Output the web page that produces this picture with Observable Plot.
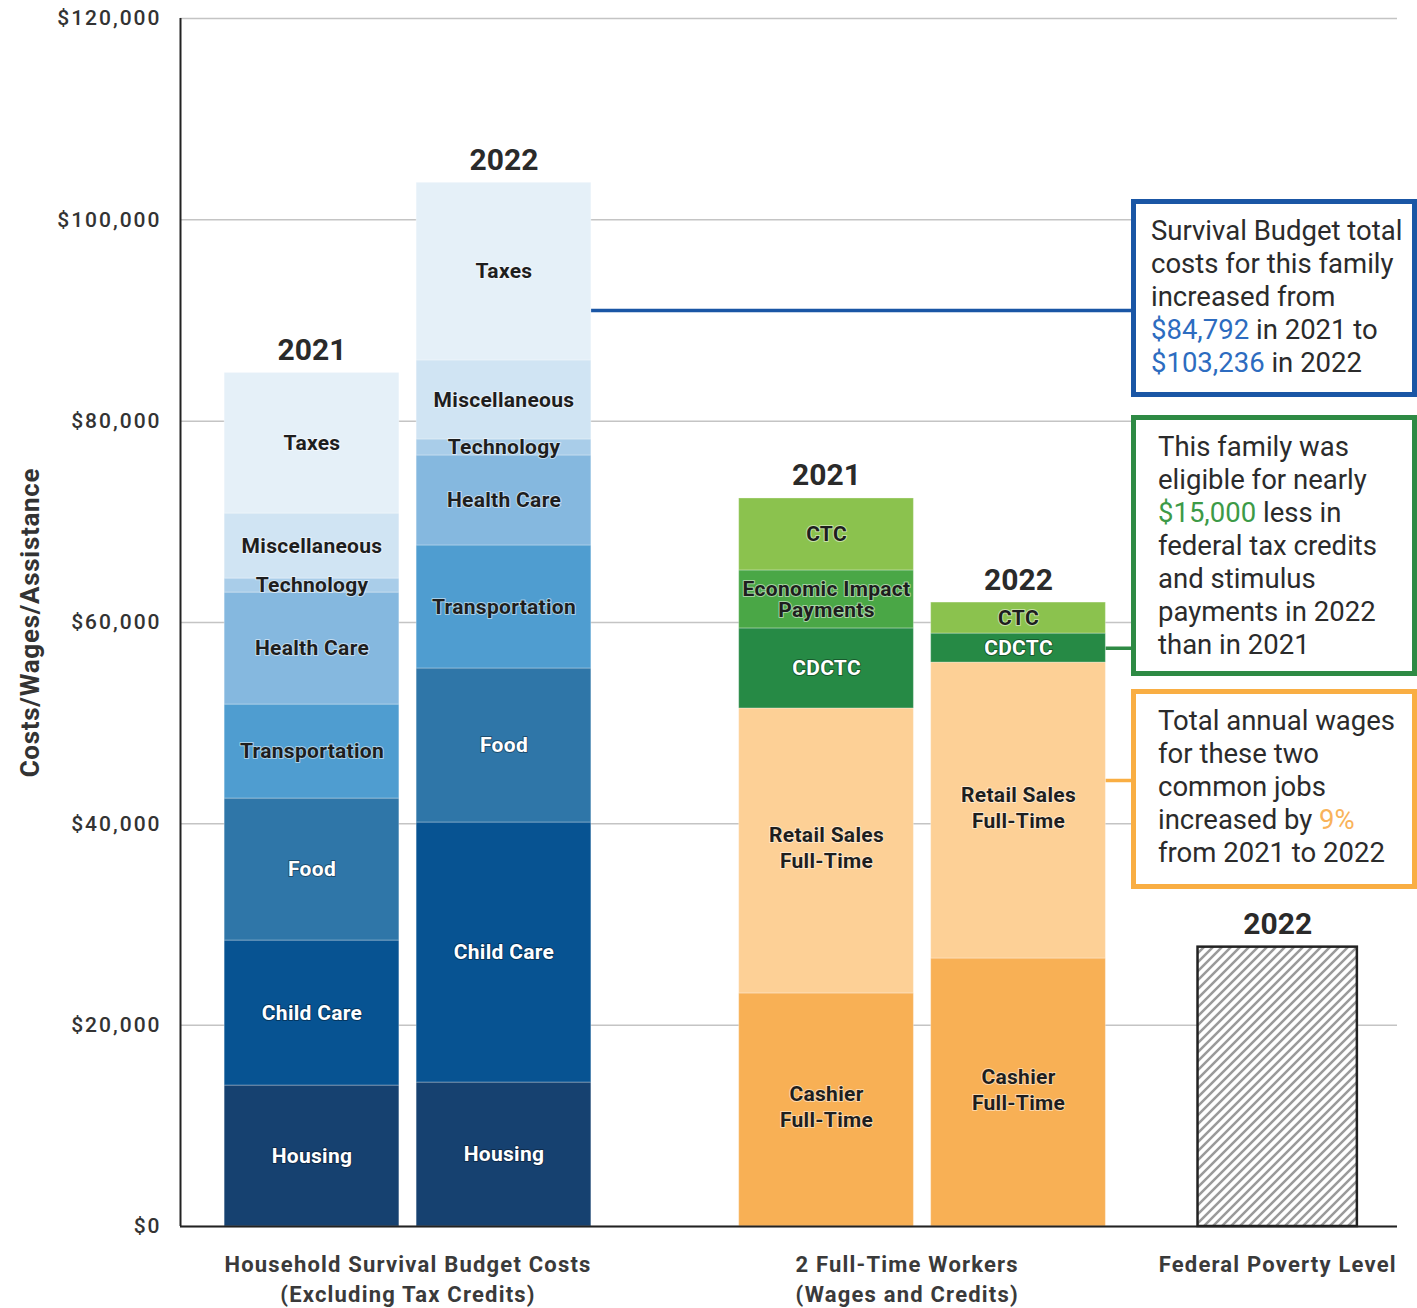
<!DOCTYPE html>
<html>
<head>
<meta charset="utf-8">
<script src="https://cdn.jsdelivr.net/npm/d3@7"></script>
<script src="https://cdn.jsdelivr.net/npm/@observablehq/plot@0.6"></script>
<style>
  body { margin: 0; background: #fff; font-family: Roboto, "Noto Sans", sans-serif; }
  #wrap { position: relative; width: 1417px; height: 1308px; overflow: hidden; }
  .box { position: absolute; left: 1131px; width: 286px; box-sizing: border-box; border: 5px solid; background: #fff;
         font-family: Roboto, sans-serif; font-size: 27.5px; line-height: 33px; color: #2b2b2b; white-space: nowrap; }
  [aria-label="y-axis tick label"] { letter-spacing: 2px; }
  [aria-label="group label"] { letter-spacing: 1.2px; }
  [aria-label="segment label"] { letter-spacing: 0.3px; }
  [aria-label="axis title"] { letter-spacing: 0.7px; }
</style>
</head>
<body>
<div id="wrap"></div>
<script>
// ---------- data ----------
const years = ["2021", "2022"];
const budgetCategories = ["Housing", "Child Care", "Food", "Transportation", "Health Care", "Technology", "Miscellaneous", "Taxes"];
const budget2021 = [14000, 14405, 14106, 9337, 11126, 1391, 6457, 13970];
const budget2022 = [14300, 25830, 15300, 12220, 8940, 1590, 7850, 17650];
const workerCategories = ["Cashier\nFull-Time", "Retail Sales\nFull-Time", "CDCTC", "Economic Impact\nPayments", "CTC"];
const workers2021 = [23150, 28310, 7950, 5760, 7150];
const workers2022 = [26620, 29400, 2880, 0, 3080];
const fplCategories = ["Federal Poverty Level"];
const fpl2022 = [27750];
const groupLabels = ["Household Survival Budget Costs\n(Excluding Tax Credits)", "2 Full-Time Workers\n(Wages and Credits)", "Federal Poverty Level"];
const yTicks = [0, 20000, 40000, 60000, 80000, 100000, 120000];
const calloutValues = [91000, 57450, 44300];

// ---------- styles / layout ----------
const budgetColors = ["#164170", "#075392", "#2f76a8", "#4f9dd0", "#85b8df", "#a9cde9", "#d0e4f3", "#e5f0f8"];
const workerColors = ["#f8b055", "#fdd096", "#268a45", "#4aa746", "#8bc24e"];
const whiteLabels = new Set(["Housing", "Child Care", "Food", "CDCTC"]);
const calloutColors = ["#1a56a5", "#2e8a44", "#f9ae43"];
const groupOffset = [0, 2.68, 5.03];   // in bar-step units
const groupLabelShift = [0, -0.08, 0]; // small optical shift of the group captions
const barWidth = 0.91, fplWidth = 0.83;
const xDomain = [-0.685, 5.654];

const bars = [
  {g: 0, i: 0, year: years[0], cats: budgetCategories, vals: budget2021, colors: budgetColors},
  {g: 0, i: 1, year: years[1], cats: budgetCategories, vals: budget2022, colors: budgetColors},
  {g: 1, i: 0, year: years[0], cats: workerCategories, vals: workers2021, colors: workerColors},
  {g: 1, i: 1, year: years[1], cats: workerCategories, vals: workers2022, colors: workerColors},
  {g: 2, i: 0, year: years[1], cats: fplCategories, vals: fpl2022, colors: ["url(#hatch)"]}
];
bars.forEach(b => {
  b.cx = groupOffset[b.g] + b.i;
  const w = b.g === 2 ? fplWidth : barWidth;
  b.x1 = b.cx - w / 2; b.x2 = b.cx + w / 2;
  b.total = d3.sum(b.vals);
});
const segments = [];
bars.filter(b => b.g !== 2).forEach(b => {
  let acc = 0;
  b.vals.forEach((v, k) => {
    if (v > 0) segments.push({x1: b.x1, x2: b.x2, cx: b.cx, y1: acc, y2: acc + v, cat: b.cats[k], fill: b.colors[k]});
    acc += v;
  });
});
const fplBar = bars.filter(b => b.g === 2);
const groupCenters = groupOffset.map((o, g) => o + (d3.max(bars.filter(b => b.g === g), b => b.i)) / 2);

const calloutFrom = [bars[1].x2, bars[3].x2, bars[3].x2];
const callouts = calloutValues.map((v, k) => ({y: v, x1: calloutFrom[k], x2: groupOffset[2], stroke: calloutColors[k]}));

const labelFill = d => whiteLabels.has(d.cat) ? "#ffffff" : "#1e1e1e";
const labelStroke = d => whiteLabels.has(d.cat) ? "rgba(0,0,0,0.35)" : "rgba(255,255,255,0.5)";
const singleLine = segments.filter(d => !d.cat.includes("\n"));
const eip = segments.filter(d => d.cat.startsWith("Economic"));
const multiLine = segments.filter(d => d.cat.includes("\n") && !d.cat.startsWith("Economic"));
const segText = {x: "cx", y: d => (d.y1 + d.y2) / 2, text: "cat", fill: labelFill, stroke: labelStroke, strokeWidth: 2,
                 paintOrder: "stroke", fontSize: 21, fontWeight: 700, ariaLabel: () => "segment label"};

const chart = Plot.plot({
  width: 1417,
  height: 1308,
  marginTop: 18,
  marginBottom: 82,
  marginLeft: 180,
  marginRight: 20,
  x: {domain: xDomain, axis: null},
  y: {domain: [0, 120000], axis: null},
  style: {fontFamily: "Roboto, sans-serif", color: "#333", background: "white"},
  marks: [
    Plot.gridY(yTicks, {stroke: "#c4c4c4", strokeOpacity: 1, strokeWidth: 1.5}),
    Plot.ruleY(callouts, {y: "y", x1: "x1", x2: "x2", stroke: "stroke", strokeWidth: 3.5}),
    Plot.rect(segments, {x1: "x1", x2: "x2", y1: "y1", y2: "y2", fill: "fill", stroke: "#fff", strokeOpacity: 0.3, strokeWidth: 1}),
    Plot.rect(fplBar, {x1: "x1", x2: "x2", y1: 0, y2: "total", fill: "url(#hatch)", stroke: "#222", strokeWidth: 2.5}),
    Plot.ruleX([xDomain[0]], {stroke: "#222", strokeWidth: 2}),
    Plot.ruleY([0], {stroke: "#222", strokeWidth: 2}),
    Plot.text(singleLine, segText),
    Plot.text(multiLine, {...segText, lineHeight: 1.25, dy: -4}),
    Plot.text(eip, {...segText, lineHeight: 1.02}),
    Plot.text(bars, {x: "cx", y: "total", text: "year", lineAnchor: "bottom", dy: -13, fontSize: 30, fontWeight: 700, fill: "#2a2a2a"}),
    Plot.axisY({ticks: yTicks, tickFormat: d3.format("$,"), tickSize: 0, tickPadding: 19, fontSize: 21, fontWeight: 500, label: null}),
    Plot.text(groupLabels, {x: (d, k) => groupCenters[k] + groupLabelShift[k], frameAnchor: "bottom", lineAnchor: "top", dy: 24, lineHeight: 1.38,
                            fontSize: 22, fontWeight: 700, fill: "#3a3a3a", ariaLabel: () => "group label"}),
    Plot.text(["Costs/Wages/Assistance"], {frameAnchor: "left", textAnchor: "middle", rotate: -90, dx: -150, fontSize: 26,
                                             fontWeight: 700, fill: "#333", ariaLabel: () => "axis title"})
  ]
});

// hatch pattern for the poverty-level bar
const defs = document.createElementNS("http://www.w3.org/2000/svg", "defs");
defs.innerHTML = '<pattern id="hatch" patternUnits="userSpaceOnUse" width="9" height="9">' +
  '<rect width="9" height="9" fill="#fff"/>' +
  '<path d="M-1,1 l2,-2 M0,9 l9,-9 M8,10 l2,-2" stroke="#9a9a9a" stroke-width="2.5"/></pattern>';
chart.prepend(defs);

const wrap = document.getElementById("wrap");
wrap.appendChild(chart);

// callout boxes
const boxes = [
  {top: 199, height: 198, color: calloutColors[0], pad: "10px 0 0 15px",
   html: 'Survival Budget total<br>costs for this family<br>increased from<br><span style="color:#2d6cc0">$84,792</span> in 2021 to<br><span style="color:#2d6cc0">$103,236</span> in 2022'},
  {top: 415, height: 261, color: calloutColors[1], pad: "10px 0 0 22px",
   html: 'This family was<br>eligible for nearly<br><span style="color:#3d9a47">$15,000</span> less in<br>federal tax credits<br>and stimulus<br>payments in 2022<br>than in 2021'},
  {top: 689, height: 200, color: calloutColors[2], pad: "10px 0 0 22px",
   html: 'Total annual wages<br>for these two<br>common jobs<br>increased by <span style="color:#f9b35a">9%</span><br>from 2021 to 2022'}
];
boxes.forEach(b => {
  const div = document.createElement("div");
  div.className = "box";
  div.style.top = b.top + "px";
  div.style.height = b.height + "px";
  div.style.borderColor = b.color;
  div.style.padding = b.pad;
  div.innerHTML = b.html;
  wrap.appendChild(div);
});
</script>
</body>
</html>
